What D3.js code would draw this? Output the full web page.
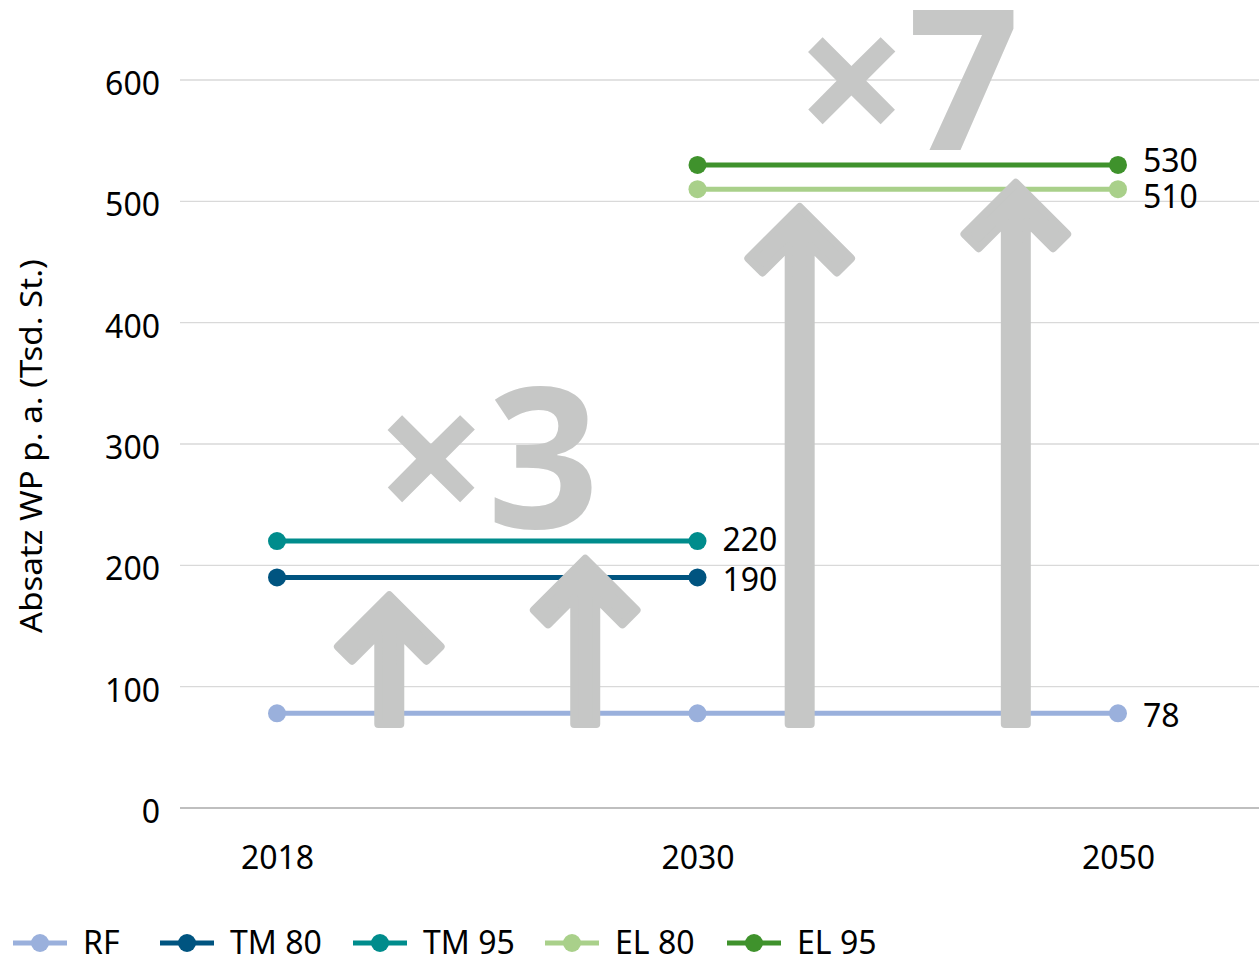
<!DOCTYPE html>
<html><head><meta charset="utf-8">
<script src="https://cdn.jsdelivr.net/npm/d3@7"></script>
<style>
html,body{margin:0;padding:0;background:#fff;}
svg text{font-family:"Noto Sans","Open Sans",sans-serif;}
</style></head>
<body>
<svg id="chart" width="1259" height="958"></svg>
<script>
// ---- data ----
const categories = ["2018", "2030", "2050"];
const seriesNames = ["RF", "TM 80", "TM 95", "EL 80", "EL 95"];
const seriesColors = ["#9ab0dc", "#005480", "#008c8c", "#a9d08a", "#3f922c"];
const valuesRF   = [78, 78, 78];
const valuesTM80 = [190, 190, null];
const valuesTM95 = [220, 220, null];
const valuesEL80 = [null, 510, 510];
const valuesEL95 = [null, 530, 530];
const yTicks = [0, 100, 200, 300, 400, 500, 600];
const yTitle = "Absatz WP p. a. (Tsd. St.)";
// arrows: position along category index, base value, tip value
const arrowPos  = [0.267, 0.733, 1.243, 1.757];
const arrowBase = [66, 66, 66, 66];
const arrowTip  = [180, 210, 500, 520];
// multiplier annotations
const multTexts = ["×3", "×7"];
const multPos   = [0.5, 1.5];
const multValue = [231, 542];

const seriesValues = [valuesRF, valuesTM80, valuesTM95, valuesEL80, valuesEL95];
const labelDy = [14, 14, 10, 19, 7]; // vertical offset of end labels

const svg = d3.select("#chart");
const x = d3.scalePoint().domain(categories).range([277, 1118]);
const xi = d3.scaleLinear().domain([0, 2]).range([277, 1118]);
const y = d3.scaleLinear().domain([0, 600]).range([808, 80]);
const plotLeft = 180, plotRight = 1259;

// gridlines
svg.append("g").selectAll("line").data(yTicks).join("line")
  .attr("x1", plotLeft).attr("x2", plotRight)
  .attr("y1", d => y(d)).attr("y2", d => y(d))
  .attr("stroke", d => d === 0 ? "#bfbfbf" : "#d9d9d9")
  .attr("stroke-width", d => d === 0 ? 2 : 1.3);

// y axis labels
const yAxis = d3.axisLeft(y).tickValues(yTicks).tickSize(0).tickPadding(0);
const gy = svg.append("g").attr("transform", "translate(160,3)").call(yAxis);
gy.select(".domain").remove();
gy.selectAll("text").attr("font-size", 32).attr("fill", "#000")
  .attr("font-family", "Noto Sans").attr("dy", "0.36em");

// x axis labels
const xAxis = d3.axisBottom(x).tickSize(0).tickPadding(0);
const gx = svg.append("g").attr("transform", "translate(0,847)").call(xAxis);
gx.select(".domain").remove();
gx.selectAll("text").attr("font-size", 32).attr("fill", "#000")
  .attr("font-family", "Noto Sans").attr("dy", "0.7em");

// y title
svg.append("text").attr("transform", "translate(42,446) rotate(-90)")
  .attr("text-anchor", "middle").attr("font-size", 31).attr("fill", "#000")
  .attr("textLength", 374).attr("lengthAdjust", "spacingAndGlyphs")
  .text(yTitle);

// series lines
const line = d3.line().defined(d => d.v != null).x(d => x(d.c)).y(d => y(d.v));
seriesValues.forEach((vals, i) => {
  const pts = categories.map((c, j) => ({c, v: vals[j]}));
  const g = svg.append("g");
  g.append("path").datum(pts).attr("d", line).attr("fill", "none")
    .attr("stroke", seriesColors[i]).attr("stroke-width", 5);
  g.selectAll("circle").data(pts.filter(p => p.v != null)).join("circle")
    .attr("cx", d => x(d.c)).attr("cy", d => y(d.v)).attr("r", 9)
    .attr("fill", seriesColors[i]);
  const last = pts.filter(p => p.v != null).slice(-1)[0];
  g.append("text").attr("x", x(last.c) + 25).attr("y", y(last.v) + labelDy[i])
    .attr("font-size", 32).attr("fill", "#000").text(last.v);
});

// arrows
const gray = "#c6c7c6";
arrowPos.forEach((p, i) => {
  const r = 4; // corner rounding (half stroke)
  const cx = xi(p), tipY = y(arrowTip[i]) + r * Math.SQRT2, baseY = y(arrowBase[i]) - r;
  const hw = 15 - r, arm = 57 - r * Math.SQRT2, t = 28 - 2 * r;
  const jy = tipY + hw + t * Math.SQRT2;
  const endIn = [arm - t / Math.SQRT2, arm + t / Math.SQRT2];
  const pts = [
    [cx, tipY],
    [cx + arm, tipY + arm],
    [cx + endIn[0], tipY + endIn[1]],
    [cx + hw, jy],
    [cx + hw, baseY],
    [cx - hw, baseY],
    [cx - hw, jy],
    [cx - endIn[0], tipY + endIn[1]],
    [cx - arm, tipY + arm]
  ];
  svg.append("path")
    .attr("d", d3.line()(pts) + "Z")
    .attr("fill", gray).attr("stroke", gray)
    .attr("stroke-width", 2 * r).attr("stroke-linejoin", "round");
});

// multiplier texts
multTexts.forEach((t, i) => {
  svg.append("text").attr("x", xi(multPos[i])).attr("y", y(multValue[i]))
    .attr("text-anchor", "middle").attr("font-size", 196).attr("font-weight", 700)
    .attr("fill", gray).text(t);
});

// legend
const legX = [13, 160, 353, 545, 727];
seriesNames.forEach((n, i) => {
  const g = svg.append("g").attr("transform", `translate(${legX[i]},943)`);
  g.append("line").attr("x1", 0).attr("x2", 54).attr("stroke", seriesColors[i]).attr("stroke-width", 5);
  g.append("circle").attr("cx", 27).attr("r", 9).attr("fill", seriesColors[i]);
  g.append("text").attr("x", 70).attr("y", 11).attr("font-size", 32).attr("fill", "#000").text(n);
});
</script>
</body></html>
